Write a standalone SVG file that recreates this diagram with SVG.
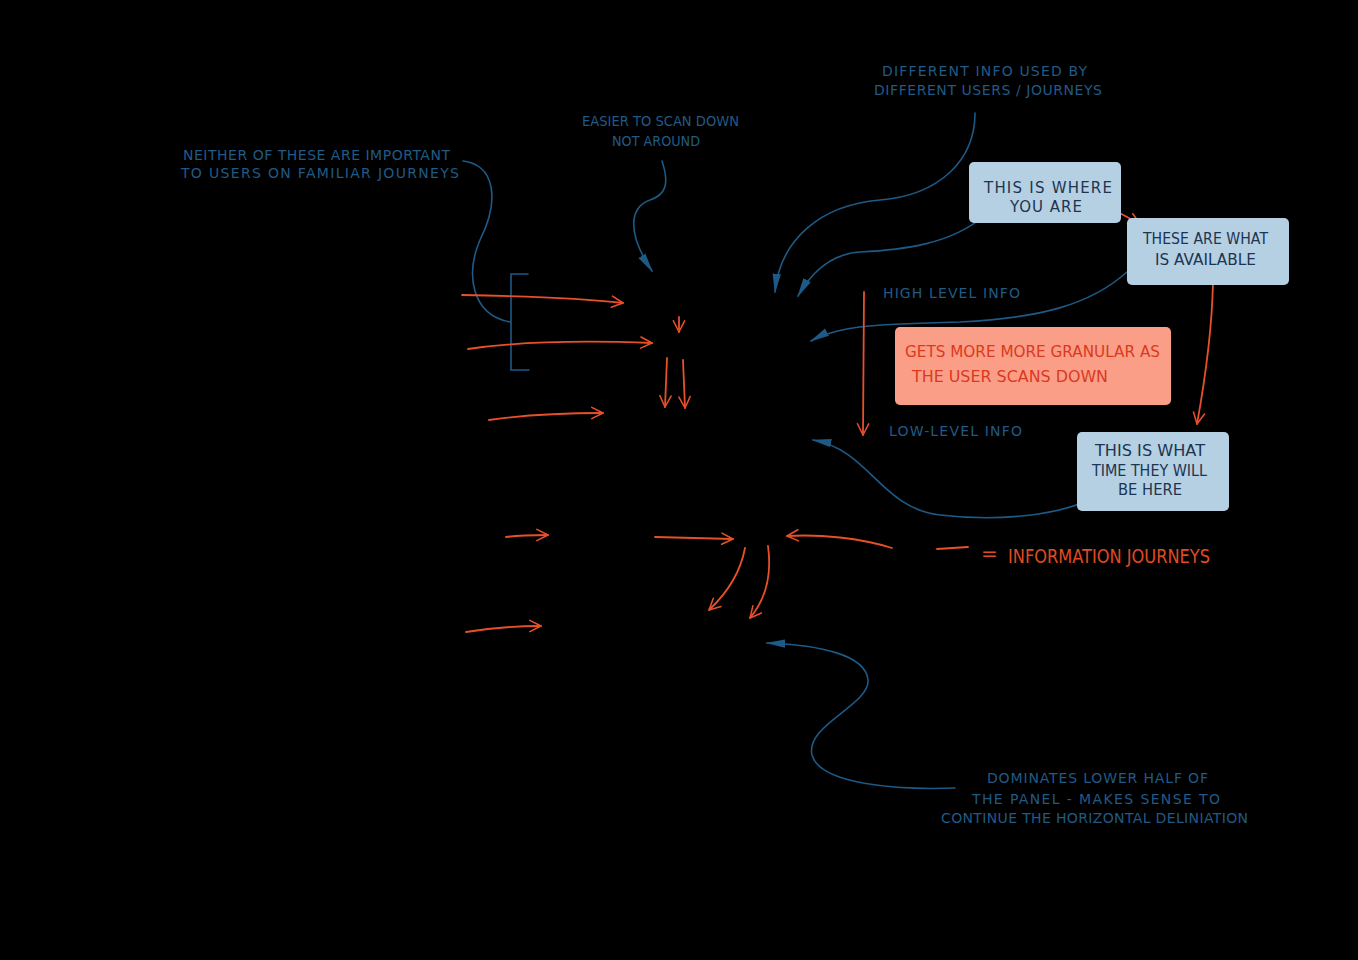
<svg xmlns="http://www.w3.org/2000/svg" width="1358" height="960" viewBox="0 0 1358 960">
<defs>
<style>
.note{font-family:"DejaVu Sans","Liberation Sans",sans-serif;font-size:14px;fill:#215a86;}
.boxt{font-family:"DejaVu Sans","Liberation Sans",sans-serif;font-size:15px;fill:#1c3550;}
.redt{font-family:"DejaVu Sans","Liberation Sans",sans-serif;font-size:16px;fill:#d93a1c;}
.leg{font-family:"DejaVu Sans","Liberation Sans",sans-serif;font-size:20px;fill:#e04a24;}
.bl{fill:none;stroke:#1d5a86;stroke-width:1.6;stroke-linecap:round;}
.or{fill:none;stroke:#e8502a;stroke-width:1.8;stroke-linecap:round;stroke-linejoin:round;}
.lb{fill:#b5cfe3;}
.sal{fill:#fb9e88;}
</style>
<marker id="ob" viewBox="0 0 20 20" refX="18" refY="10" markerWidth="14" markerHeight="14" markerUnits="userSpaceOnUse" orient="auto">
<path d="M2 2 L18 10 L2 18" fill="none" stroke="#e8502a" stroke-width="2.2" stroke-linecap="round" stroke-linejoin="round"/>
</marker>
<marker id="bb" viewBox="0 0 24 12" refX="22" refY="6" markerWidth="20" markerHeight="10" markerUnits="userSpaceOnUse" orient="auto">
<path d="M0 1 L24 6 L0 11 Z" fill="#1d5a86"/>
</marker>
</defs>
<rect width="1358" height="960" fill="#000"/>

<g id="connectors">
<path class="bl" d="M463 161 C495 165 500 200 480 240 C465 275 472 315 510 322"/>
<path class="bl" d="M511 274 L528 274 M511 274 L511 370 L529 370"/>
<path class="bl" d="M662 161 C670 185 665 195 650 200 C628 208 628 235 652 271" marker-end="url(#bb)"/>
<path class="bl" d="M975 113 C975 160 940 195 880 200 C820 205 780 240 775 292" marker-end="url(#bb)"/>
<path class="bl" d="M984 216 C950 245 900 250 860 252 C830 254 810 275 798 296" marker-end="url(#bb)"/>
<path class="bl" d="M1127 272 C1090 305 1040 318 960 322 C880 324 840 325 811 341" marker-end="url(#bb)"/>
<path class="bl" d="M1093 498 C1060 515 1000 522 940 515 C880 508 870 450 813 440" marker-end="url(#bb)"/>
<path class="bl" d="M955 788 C900 790 820 785 812 755 C805 725 870 705 868 680 C866 655 820 645 767 643" marker-end="url(#bb)"/>

<path class="or" d="M462 295 C520 296 580 298 623 303" marker-end="url(#ob)"/>
<path class="or" d="M468 349 C530 340 600 341 652 343" marker-end="url(#ob)"/>
<path class="or" d="M489 420 C530 414 570 413 603 413" marker-end="url(#ob)"/>
<path class="or" d="M679 317 L679 332" marker-end="url(#ob)"/>
<path class="or" d="M667 358 L665 407" marker-end="url(#ob)"/>
<path class="or" d="M683 360 L685 408" marker-end="url(#ob)"/>
<path class="or" d="M864 292 L863 435" marker-end="url(#ob)"/>
<path class="or" d="M1103 204 L1140 224" marker-end="url(#ob)"/>
<path class="or" d="M1213 282 C1212 330 1205 380 1197 424" marker-end="url(#ob)"/>
<path class="or" d="M506 537 C520 535 535 535 548 535" marker-end="url(#ob)"/>
<path class="or" d="M655 537 L733 539" marker-end="url(#ob)"/>
<path class="or" d="M892 548 C860 538 820 534 787 536" marker-end="url(#ob)"/>
<path class="or" d="M745 548 C740 575 725 595 709 610" marker-end="url(#ob)"/>
<path class="or" d="M768 546 C772 575 765 600 750 618" marker-end="url(#ob)"/>
<path class="or" d="M466 632 C490 628 515 626 541 626" marker-end="url(#ob)"/>
</g>

<g id="note-neither">
<text class="note" x="183" y="160" textLength="267" lengthAdjust="spacing">NEITHER OF THESE ARE IMPORTANT</text>
<text class="note" x="181" y="178" textLength="278" lengthAdjust="spacing">TO USERS ON FAMILIAR JOURNEYS</text>
</g>
<g id="note-easier">
<text class="note" x="582" y="126" textLength="157" lengthAdjust="spacingAndGlyphs">EASIER TO SCAN DOWN</text>
<text class="note" x="612" y="146" textLength="88" lengthAdjust="spacingAndGlyphs">NOT AROUND</text>
</g>
<g id="note-different">
<text class="note" x="882" y="76" textLength="205" lengthAdjust="spacing">DIFFERENT INFO USED BY</text>
<text class="note" x="874" y="95" textLength="228" lengthAdjust="spacing">DIFFERENT USERS / JOURNEYS</text>
</g>
<g id="box-where">
<rect class="lb" x="969" y="162" width="152" height="61" rx="5"/>
<text class="boxt" x="984" y="193" textLength="128" lengthAdjust="spacing">THIS IS WHERE</text>
<text class="boxt" x="1010" y="212" textLength="72" lengthAdjust="spacing">YOU ARE</text>
</g>
<g id="box-available">
<rect class="lb" x="1127" y="218" width="162" height="67" rx="5"/>
<text class="boxt" x="1143" y="244" textLength="125" lengthAdjust="spacingAndGlyphs">THESE ARE WHAT</text>
<text class="boxt" x="1155" y="265" textLength="101" lengthAdjust="spacingAndGlyphs">IS AVAILABLE</text>
</g>
<g id="label-high">
<text class="note" x="883" y="298" textLength="137" lengthAdjust="spacing">HIGH LEVEL INFO</text>
</g>
<g id="box-granular">
<rect class="sal" x="895" y="327" width="276" height="78" rx="5"/>
<text class="redt" x="905" y="357" textLength="255" lengthAdjust="spacingAndGlyphs">GETS MORE MORE GRANULAR AS</text>
<text class="redt" x="912" y="382" textLength="196" lengthAdjust="spacingAndGlyphs">THE USER SCANS DOWN</text>
</g>
<g id="label-low">
<text class="note" x="889" y="436" textLength="133" lengthAdjust="spacing">LOW-LEVEL INFO</text>
</g>
<g id="box-time">
<rect class="lb" x="1077" y="432" width="152" height="79" rx="5"/>
<text class="boxt" x="1095" y="456" textLength="110" lengthAdjust="spacingAndGlyphs">THIS IS WHAT</text>
<text class="boxt" x="1092" y="476" textLength="115" lengthAdjust="spacingAndGlyphs">TIME THEY WILL</text>
<text class="boxt" x="1118" y="495" textLength="64" lengthAdjust="spacingAndGlyphs">BE HERE</text>
</g>
<g id="legend">
<path class="or" d="M937 549 L968 547" stroke-width="2.5"/>
<text class="leg" x="981" y="560">=</text>
<text class="leg" x="1008" y="563" textLength="202" lengthAdjust="spacingAndGlyphs">INFORMATION JOURNEYS</text>
</g>
<g id="note-dominates">
<text class="note" x="987" y="783" textLength="221" lengthAdjust="spacing">DOMINATES LOWER HALF OF</text>
<text class="note" x="972" y="804" textLength="248" lengthAdjust="spacing">THE PANEL - MAKES SENSE TO</text>
<text class="note" x="941" y="823" textLength="307" lengthAdjust="spacing">CONTINUE THE HORIZONTAL DELINIATION</text>
</g>
</svg>
